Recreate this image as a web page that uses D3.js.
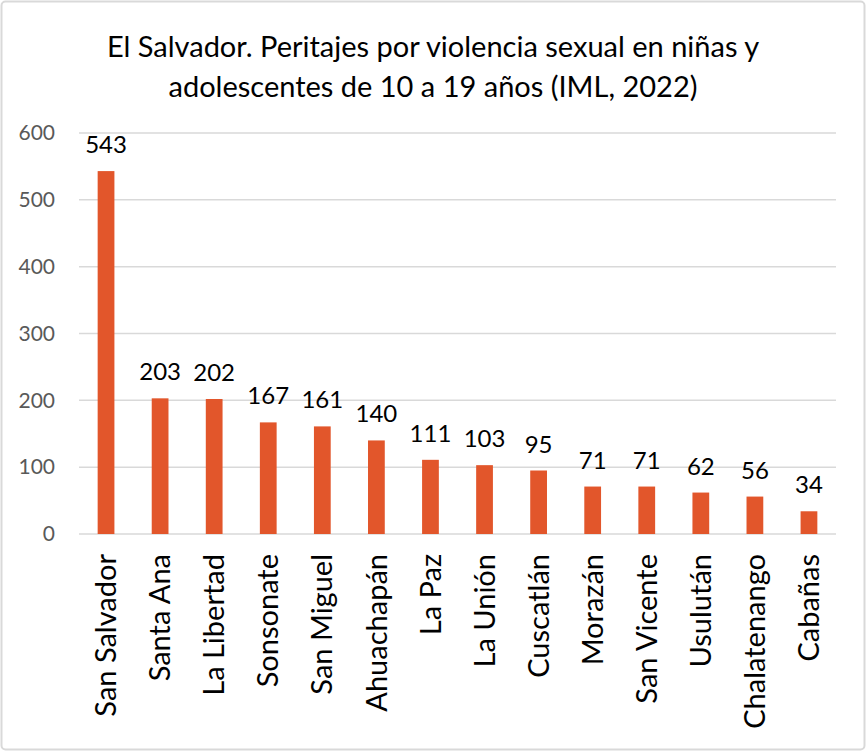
<!DOCTYPE html>
<html>
<head>
<meta charset="utf-8">
<script src="https://cdn.jsdelivr.net/npm/d3@7"></script>
<style>
body{margin:0;background:#fff;}
text{font-family:Lato,"Open Sans",sans-serif;}
</style>
</head>
<body>
<svg id="chart" width="866" height="751"></svg>
<script>
var departments=["San Salvador","Santa Ana","La Libertad","Sonsonate","San Miguel","Ahuachapán","La Paz","La Unión","Cuscatlán","Morazán","San Vicente","Usulután","Chalatenango","Cabañas"];
var cases=[543,203,202,167,161,140,111,103,95,71,71,62,56,34];
var yTicks=[0,100,200,300,400,500,600];
var titleLines=["El Salvador. Peritajes por violencia sexual en niñas y","adolescentes de 10 a 19 años (IML, 2022)"];

var width=866,height=751;
var plotLeft=79,plotRight=836,plotTop=133,plotBottom=534;

var svg=d3.select("#chart");

svg.append("rect")
.attr("x",1.5).attr("y",1.5)
.attr("width",width-3).attr("height",height-3)
.attr("rx",4)
.attr("fill","#fff")
.attr("stroke","#d9d9d9")
.attr("stroke-width",2)

svg.selectAll(".title")
.data(titleLines)
.enter()
.append("text")
.classed("title",true)
.attr("x",width/2)
.attr("y",(d,i)=>57+i*40)
.attr("text-anchor","middle")
.attr("font-size","29px")
.attr("fill","#000")
.text(d=>d)

var xScale=d3.scaleBand()
.domain(departments)
.range([plotLeft,plotRight])
.paddingInner(0.69)
.paddingOuter(0.345)

var yScale=d3.scaleLinear()
.domain([0,600])
.range([plotBottom,plotTop])

svg.selectAll(".grid")
.data(yTicks)
.enter()
.append("line")
.classed("grid",true)
.attr("x1",plotLeft).attr("x2",plotRight)
.attr("y1",d=>yScale(d)).attr("y2",d=>yScale(d))
.attr("stroke","#d9d9d9")
.attr("stroke-width",1.5)

var yAxis=d3.axisLeft(yScale)
.tickValues(yTicks)
.tickSize(0)
.tickPadding(24)

svg.append("g")
.attr("transform","translate("+plotLeft+",0)")
.call(yAxis)
.call(g=>g.select(".domain").remove())
.selectAll("text")
.attr("font-size","21px")
.attr("fill","#595959")
.attr("font-family","Lato,'Open Sans',sans-serif")

svg.selectAll(".bar")
.data(departments)
.enter()
.append("rect")
.classed("bar",true)
.attr("x",d=>xScale(d))
.attr("y",(d,i)=>yScale(cases[i]))
.attr("width",xScale.bandwidth())
.attr("height",(d,i)=>plotBottom-yScale(cases[i]))
.attr("fill","#E2562B")

svg.selectAll(".value")
.data(departments)
.enter()
.append("text")
.classed("value",true)
.attr("x",d=>xScale(d)+xScale.bandwidth()/2)
.attr("y",(d,i)=>yScale(cases[i])-18)
.attr("text-anchor","middle")
.attr("font-size","24px")
.attr("fill","#000")
.text((d,i)=>cases[i])

var xAxis=d3.axisBottom(xScale)
.tickSize(0)
.tickPadding(0)

svg.append("g")
.attr("transform","translate(0,"+plotBottom+")")
.call(xAxis)
.call(g=>g.select(".domain").remove())
.selectAll("text")
.attr("font-size","29px")
.attr("fill","#000")
.attr("font-family","Lato,'Open Sans',sans-serif")
.attr("text-anchor","end")
.attr("dy","0.35em")
.attr("transform","translate(0,20) rotate(-90)")
.attr("x",0).attr("y",0)
</script>
</body>
</html>
